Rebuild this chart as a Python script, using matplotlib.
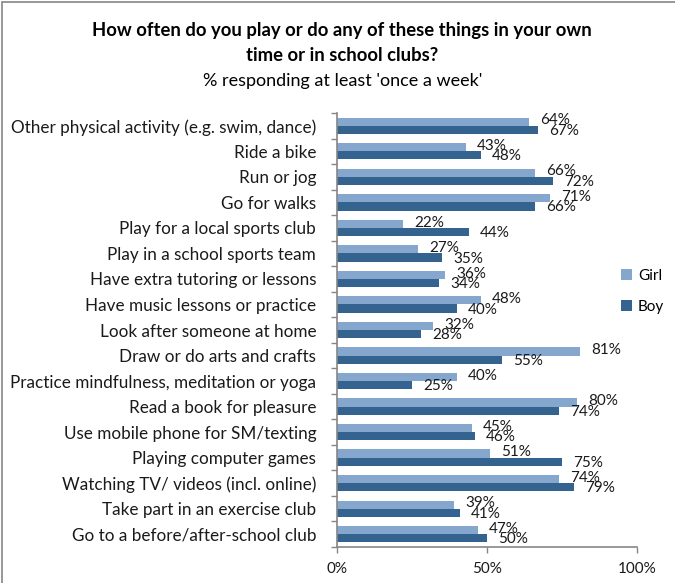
import matplotlib
matplotlib.use("Agg")
import matplotlib.pyplot as plt
from matplotlib.patches import Rectangle
import numpy as np

plt.rcParams['font.family'] = ['Lato', 'DejaVu Sans']

categories = [
    "Other physical activity (e.g. swim, dance)",
    "Ride a bike",
    "Run or jog",
    "Go for walks",
    "Play for a local sports club",
    "Play in a school sports team",
    "Have extra tutoring or lessons",
    "Have music lessons or practice",
    "Look after someone at home",
    "Draw or do arts and crafts",
    "Practice mindfulness, meditation or yoga",
    "Read a book for pleasure",
    "Use mobile phone for SM/texting",
    "Playing computer games",
    "Watching TV/ videos (incl. online)",
    "Take part in an exercise club",
    "Go to a before/after-school club",
]
girl = [64, 43, 66, 71, 22, 27, 36, 48, 32, 81, 40, 80, 45, 51, 74, 39, 47]
boy = [67, 48, 72, 66, 44, 35, 34, 40, 28, 55, 25, 74, 46, 75, 79, 41, 50]
x_ticks = [0, 50, 100]
x_tick_labels = ["0%", "50%", "100%"]

girl_color = "#85A7CD"
boy_color = "#35638F"
axis_color = "#868686"
text_color = "#1a1a1a"

fig = plt.figure(figsize=(6.75, 5.83), dpi=100)
ax = fig.add_axes([0.4993, 0.0617, 0.4444, 0.7445])

n = len(categories)
y = np.arange(n)
h = 0.32
ax.barh(y - h / 2, girl, height=h, color=girl_color, label="Girl", zorder=2)
ax.barh(y + h / 2, boy, height=h, color=boy_color, label="Boy", zorder=2)

for yi, g, b in zip(y, girl, boy):
    ax.text(g + 3.7, yi - h / 2 - 0.05, f"{g}%", va="center", ha="left",
            fontsize=11, color=text_color)
    ax.text(b + 3.7, yi + h / 2 + 0.04, f"{b}%", va="center", ha="left",
            fontsize=11, color=text_color)

ax.set_ylim(n - 0.5, -0.5)
ax.set_xlim(0, 100)
ax.set_yticks(y)
ax.set_yticklabels(categories, fontsize=12.3, color=text_color)
ax.set_yticks(np.arange(n + 1) - 0.5, minor=True)
ax.tick_params(axis="y", which="major", length=0, pad=15)
ax.tick_params(axis="y", which="minor", length=4, color=axis_color, width=1)
ax.set_xticks(x_ticks)
ax.set_xticklabels(x_tick_labels, fontsize=11, color=text_color)
ax.tick_params(axis="x", length=4, color=axis_color, width=1, pad=7)

for side in ("top", "right"):
    ax.spines[side].set_visible(False)
for side in ("left", "bottom"):
    ax.spines[side].set_color(axis_color)
    ax.spines[side].set_linewidth(1.2)

fig.text(0.507, 0.947, "How often do you play or do any of these things in your own",
         ha="center", va="center", fontsize=13.3, fontweight="bold")
fig.text(0.507, 0.904, "time or in school clubs?",
         ha="center", va="center", fontsize=13.3, fontweight="bold")
fig.text(0.507, 0.861, "% responding at least 'once a week'",
         ha="center", va="center", fontsize=13)

fig.legend(loc="center left", bbox_to_anchor=(0.9, 0.50), frameon=False,
           fontsize=11, handlelength=0.7, handleheight=0.7,
           labelspacing=1.1, handletextpad=0.4)

fig.patches.append(Rectangle((0.003, -0.01), 1.1, 1.0066, transform=fig.transFigure,
                             fill=False, edgecolor=axis_color, linewidth=1.2))

fig.savefig("out.png", dpi=100)
